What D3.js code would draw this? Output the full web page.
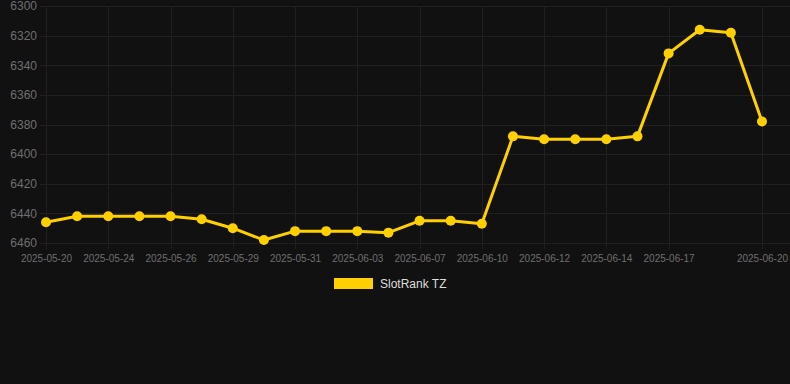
<!DOCTYPE html>
<html lang="en">
<head>
    <meta charset="UTF-8">
    <title>SlotRank TZ</title>
    <script src="https://d3js.org/d3.v7.min.js"></script>
    <style>
        html, body {
            margin: 0;
            padding: 0;
            background: #111111;
        }
        body {
            font-family: Arial, "Liberation Sans", sans-serif;
        }
        .grid line {
            stroke: #202020;
            stroke-width: 1;
        }
        .axis text {
            fill: #6f6f6f;
        }
    </style>
</head>
<body>
    <svg id="chart"></svg>

    <script>
        // data
        const dates = [
            "2025-05-20", "2025-05-22", "2025-05-24", "2025-05-25", "2025-05-26", "2025-05-28",
            "2025-05-29", "2025-05-30", "2025-05-31", "2025-06-02", "2025-06-03", "2025-06-05",
            "2025-06-07", "2025-06-08", "2025-06-10", "2025-06-11", "2025-06-12", "2025-06-13",
            "2025-06-14", "2025-06-16", "2025-06-17", "2025-06-18", "2025-06-19", "2025-06-20"
        ];
        const ranks = [
            6446, 6442, 6442, 6442, 6442, 6444,
            6450, 6458, 6452, 6452, 6452, 6453,
            6445, 6445, 6447, 6388, 6390, 6390,
            6390, 6388, 6332, 6316, 6318, 6378
        ];
        const xTicks = [
            "2025-05-20", "2025-05-24", "2025-05-26", "2025-05-29", "2025-05-31", "2025-06-03",
            "2025-06-07", "2025-06-10", "2025-06-12", "2025-06-14", "2025-06-17", "2025-06-20"
        ];
        const yTicks = [6300, 6320, 6340, 6360, 6380, 6400, 6420, 6440, 6460];
        const seriesName = "SlotRank TZ";

        const width = 790;
        const height = 384;
        const plotLeft = 40, plotRight = 790, plotTop = 6, plotBottom = 243;
        const gold = "#ffd000";

        const svg = d3.select("#chart")
                      .attr("width", width)
                      .attr("height", height);

        const x = d3.scalePoint()
                    .domain(dates)
                    .range([46, 762]);

        // rank axis is reversed: better rank on top
        const y = d3.scaleLinear()
                    .domain([6300, 6460])
                    .range([plotTop, plotBottom]);

        // horizontal grid
        svg.append("g")
           .attr("class", "grid")
           .selectAll("line")
           .data(yTicks)
           .join("line")
           .attr("x1", plotLeft)
           .attr("x2", plotRight)
           .attr("y1", d => Math.round(y(d)) + 0.5)
           .attr("y2", d => Math.round(y(d)) + 0.5);

        // vertical grid at shown ticks
        svg.append("g")
           .attr("class", "grid")
           .selectAll("line")
           .data(xTicks)
           .join("line")
           .attr("x1", d => Math.round(x(d)) + 0.5)
           .attr("x2", d => Math.round(x(d)) + 0.5)
           .attr("y1", plotTop)
           .attr("y2", plotBottom + 6);

        // y axis labels
        const yAxis = d3.axisLeft(y)
                        .tickValues(yTicks)
                        .tickFormat(d3.format("d"))
                        .tickSize(0)
                        .tickPadding(0);
        svg.append("g")
           .attr("class", "axis")
           .attr("transform", `translate(37,0)`)
           .call(yAxis)
           .call(g => g.select(".domain").remove())
           .selectAll("text")
           .attr("font-size", 12)
           .attr("font-family", "Arial, 'Liberation Sans', sans-serif");

        // x axis labels
        const xAxis = d3.axisBottom(x).tickValues(xTicks).tickSize(0).tickPadding(0);
        svg.append("g")
           .attr("class", "axis")
           .attr("transform", `translate(0,${plotBottom + 19})`)
           .call(xAxis)
           .call(g => g.select(".domain").remove())
           .selectAll("text")
           .attr("dy", 0)
           .attr("font-size", 10)
           .attr("font-family", "Arial, 'Liberation Sans', sans-serif");

        // line
        const line = d3.line()
                       .x((d, i) => x(dates[i]))
                       .y(d => y(d));

        svg.append("path")
           .datum(ranks)
           .attr("fill", "none")
           .attr("stroke", gold)
           .attr("stroke-width", 3)
           .attr("stroke-linejoin", "round")
           .attr("d", line);

        svg.append("g")
           .selectAll("circle")
           .data(ranks)
           .join("circle")
           .attr("cx", (d, i) => x(dates[i]))
           .attr("cy", d => y(d))
           .attr("r", 5)
           .attr("fill", gold);

        // legend
        const legend = svg.append("g").attr("transform", "translate(334,278)");
        legend.append("rect")
              .attr("width", 39)
              .attr("height", 11)
              .attr("fill", gold);
        legend.append("text")
              .attr("x", 46)
              .attr("y", 10)
              .attr("fill", "#dddddd")
              .attr("font-size", 12)
              .attr("font-family", "Arial, 'Liberation Sans', sans-serif")
              .text(seriesName);
    </script>
</body>
</html>
